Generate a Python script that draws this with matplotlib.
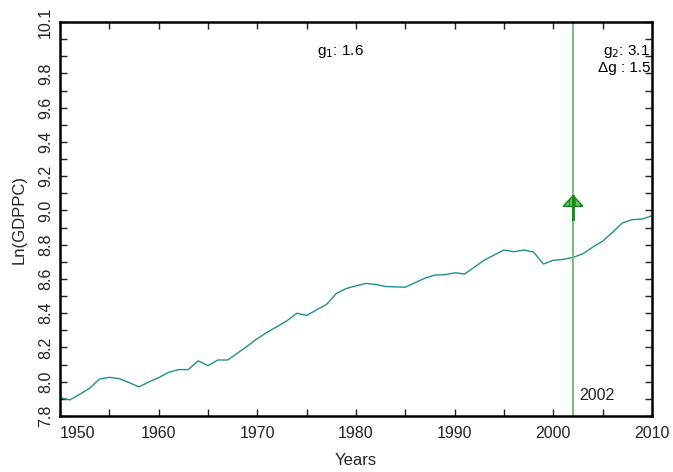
import numpy as np
import matplotlib.pyplot as plt
from matplotlib.patches import Polygon
from matplotlib.ticker import MultipleLocator

plt.rcParams['font.family'] = ['Liberation Sans', 'DejaVu Sans']
plt.rcParams['hatch.linewidth'] = 0.9

# data
years = np.arange(1950, 2011)
ln_gdppc = [7.907, 7.894, 7.927, 7.962, 8.016, 8.026, 8.018, 7.995, 7.970, 7.999,
            8.024, 8.055, 8.071, 8.071, 8.122, 8.094, 8.127, 8.127, 8.168, 8.209,
            8.252, 8.289, 8.322, 8.356, 8.400, 8.387, 8.420, 8.451, 8.515, 8.544,
            8.560, 8.574, 8.568, 8.556, 8.554, 8.552, 8.579, 8.605, 8.623, 8.625,
            8.636, 8.629, 8.669, 8.710, 8.740, 8.769, 8.759, 8.769, 8.757, 8.687,
            8.709, 8.714, 8.726, 8.747, 8.786, 8.821, 8.872, 8.927, 8.946, 8.950,
            8.969]
break_year = 2002
arrow_tail, arrow_base, arrow_tip = 8.95, 9.024, 9.087
g1, g2, dg = 1.6, 3.1, 1.5
xticks = [1950, 1960, 1970, 1980, 1990, 2000, 2010]
yticks = [7.8, 8.0, 8.2, 8.4, 8.6, 8.8, 9.0, 9.2, 9.4, 9.6, 9.8, 10.1]

fig = plt.figure(figsize=(6.73, 4.72), dpi=100)
ax = fig.add_axes([0.0892, 0.1186, 0.8796, 0.8348])

ax.plot(years, ln_gdppc, color='#1f9090', lw=1.0)
ax.axvline(break_year, color='#6cb86c', lw=1.3)

# arrow: hatched triangular head + dark shaft
head = Polygon([(break_year - 1, arrow_base), (break_year + 1, arrow_base),
                (break_year, arrow_tip)], closed=True, facecolor='#6cc06c',
               edgecolor='#138a13', hatch='|||', lw=1, zorder=3)
ax.add_patch(head)
ax.plot([break_year, break_year], [arrow_tail, arrow_tip], color='#138a13',
        lw=2, zorder=4)

ax.set_xlim(1950, 2010)
ax.set_ylim(7.8, 10.1)
ax.set_xticks(xticks)
ax.set_xticklabels([str(x) for x in xticks])
ax.xaxis.set_minor_locator(MultipleLocator(5))
ax.set_yticks(yticks)
ax.set_yticklabels(['%.1f' % y for y in yticks], rotation=90, va='center')
ax.yaxis.set_minor_locator(MultipleLocator(0.1))
ax.tick_params(which='both', direction='in', top=True, right=True,
               length=5, width=1, labelsize=11.5, colors='#222222')
ax.tick_params(axis='x', pad=7)
ax.tick_params(axis='y', pad=5)
ax.get_xticklabels()[0].set_horizontalalignment('left')
for s in ax.spines.values():
    s.set_linewidth(1.8)

ax.text(1976.0, 9.93, 'g$_1$: %.1f' % g1, fontsize=11, ha='left', va='center')
ax.text(2009.8, 9.93, 'g$_2$: %.1f' % g2, fontsize=11, ha='right', va='center')
ax.text(2009.8, 9.83, '\u0394g : %.1f' % dg, fontsize=11, ha='right', va='center')
ax.text(2002.6, 7.92, str(break_year), fontsize=11.5, ha='left', va='center', color='#222222')

ax.set_xlabel('Years', fontsize=12, color='#222222', labelpad=9)
ax.set_ylabel('Ln(GDPPC)', fontsize=12, color='#222222', labelpad=8)

fig.savefig('out.png', dpi=100)
